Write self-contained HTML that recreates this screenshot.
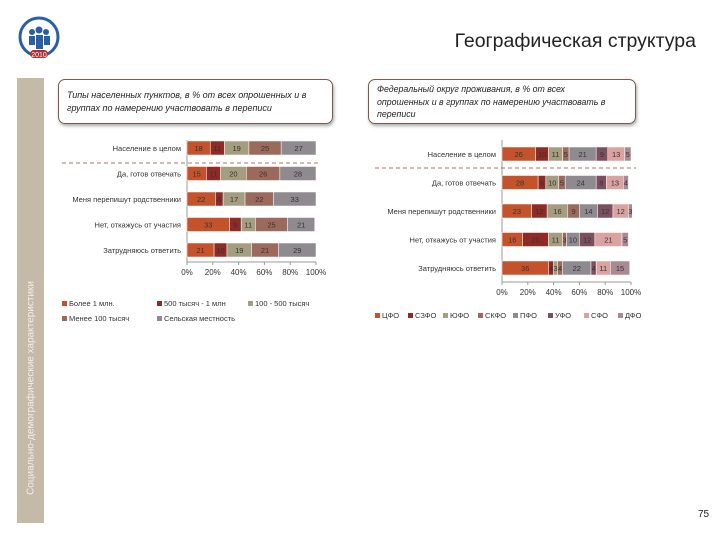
<!DOCTYPE html>
<html><head><meta charset="utf-8">
<style>
body{margin:0;width:720px;height:540px;background:#fff;overflow:hidden;font-family:"Liberation Sans",sans-serif;position:relative}
.box{position:absolute;border:1px solid #7a5a50;border-radius:7px;box-shadow:1px 2px 3px #aaa;font-style:italic;font-size:9.5px;color:#222;padding:6px 8px;line-height:13px;box-sizing:border-box}
</style></head><body>
<svg style="position:absolute;left:8px;top:10px" width="56" height="56" viewBox="0 0 56 56">
<circle cx="31" cy="27" r="19" fill="none" stroke="#2b5fa5" stroke-width="3"/>
<g fill="#2b5fa5"><circle cx="24" cy="22" r="3"/><circle cx="31" cy="20" r="3.5"/><circle cx="38" cy="22" r="3"/><rect x="21" y="26" width="6" height="9"/><rect x="28" y="25" width="7" height="14"/><rect x="36" y="26" width="6" height="9"/></g>
<rect x="22" y="40" width="18" height="8" rx="4" fill="#b03030"/><text x="31" y="47" font-size="7" fill="#fff" text-anchor="middle" font-family="Liberation Sans">2010</text></svg>
<div style="position:absolute;right:24px;top:30px;font-size:19.5px;color:#222">Географическая структура</div>
<div style="position:absolute;left:17px;top:78px;width:27px;height:445px;background:#c5b9a8"></div>
<div style="position:absolute;left:31px;top:388px;transform:translate(-50%,-50%) rotate(-90deg);white-space:nowrap;font-size:10px;color:#f4f0ea">Социально-демографические характеристики</div>
<div class="box" style="left:58px;top:79px;width:275px;height:45px;padding-top:9px;font-size:9px">Типы населенных пунктов, в % от всех опрошенных и в группах по намерению участвовать в переписи</div>
<div class="box" style="left:368px;top:79px;width:268px;height:45px;padding:3px 20px 0 8px;font-size:8.8px;line-height:12.5px">Федеральный округ проживания, в % от всех опрошенных и в группах по намерению участвовать в переписи</div>
<div style="position:absolute;left:698px;top:509px;font-size:10px;color:#222">75</div>
<svg id="ch" width="720" height="540" style="position:absolute;left:0;top:0"></svg>
<script>
const leftCats=["Население в целом","Да, готов отвечать","Меня перепишут родственники","Нет, откажусь от участия","Затрудняюсь ответить"];
const leftSeries=["Более 1 млн.","500 тысяч - 1 млн","100 - 500 тысяч","Менее 100 тысяч","Сельская местность"];
const leftVals=[[18,11,19,25,27],[15,11,20,26,28],[22,6,17,22,33],[33,9,11,25,21],[21,10,19,21,29]];
const rightCats=["Население в целом","Да, готов отвечать","Меня перепишут родственники","Нет, откажусь от участия","Затрудняюсь ответить"];
const rightSeries=["ЦФО","СЗФО","ЮФО","СКФО","ПФО","УФО","СФО","ДФО"];
const rightVals=[[26,10,11,5,21,9,13,5],[28,6,10,5,24,8,13,4],[23,12,16,9,14,12,12,3],[16,20,11,3,10,12,21,5],[36,4,3,4,22,4,11,15]];
const ticks=["0%","20%","40%","60%","80%","100%"];
const leftColors=["#c4532c","#8e2b26","#a59d80","#9b6a5c","#8f8a90"];
const rightColors=["#c4532c","#8e2b26","#a59d80","#9b6a5c","#8f8a90","#7b4f5e","#dba3a0","#a88a92"];
const svg=document.getElementById('ch');const NS="http://www.w3.org/2000/svg";
function mk(t,a,p){const e=document.createElementNS(NS,t);for(const k in a)e.setAttribute(k,a[k]);(p||svg).appendChild(e);return e;}
function chart(o){
 const x=v=>o.x0+v/100*(o.x1-o.x0);
 const y=i=>o.ys[0]+i*(o.ys[1]-o.ys[0]);
 const g=mk('g',{});
 mk('line',{x1:o.x0,y1:o.top,x2:o.x0,y2:o.axisY,stroke:'#999'},g);
 mk('line',{x1:o.x0,y1:o.axisY,x2:o.x1,y2:o.axisY,stroke:'#999'},g);
 ticks.forEach((t,i)=>{const tx=x(i*20);mk('line',{x1:tx,y1:o.axisY,x2:tx,y2:o.axisY+3,stroke:'#999'},g);
  const e=mk('text',{x:tx,y:o.axisY+13,'font-size':8,'text-anchor':'middle',fill:'#333'},g);e.textContent=t;
  });
 mk('line',{x1:o.dashX0,y1:o.dashY,x2:o.x1+5,y2:o.dashY,stroke:'#b07060','stroke-dasharray':'4,3'},g);
 o.cats.forEach((c,i)=>{const cy=y(i);
  const lt=mk('text',{x:o.x0-6,y:cy+3,'font-size':7.5,'text-anchor':'end',fill:'#333'},g);lt.textContent=c;
  
  let acc=0;o.vals[i].forEach((v,j)=>{
   const r=mk('rect',{x:x(acc),y:cy-7,width:x(acc+v)-x(acc),height:14,fill:o.colors[j],stroke:'#fff','stroke-width':0.5},g);
   
   const t=mk('text',{x:(x(acc)+x(acc+v))/2,y:cy+3,'font-size':7.5,'text-anchor':'middle',fill:'#333'},g);t.textContent=v;
   
   acc+=v;});
 });
 o.legend.forEach((l,j)=>{const lx=o.legX[j],ly=o.legY[j];
  const s=mk('rect',{x:lx,y:ly-5,width:5,height:5,fill:o.colors[j]},g);
  const t=mk('text',{x:lx+7,y:ly,'font-size':7.5,fill:'#333'},g);t.textContent=l;});
}
chart({name:'left-chart',x0:187,x1:316,ys:[148,173.5],top:140,axisY:262,dashX0:62,dashY:163,cats:leftCats,vals:leftVals,colors:leftColors,
 legend:leftSeries,legX:[62,157,248,62,157],legY:[306,306,306,321,321]});
chart({name:'right-chart',x0:502,x1:631,ys:[154,182.5],top:140,axisY:282,dashX0:375,dashY:168,cats:rightCats,vals:rightVals,colors:rightColors,
 legend:rightSeries,legX:[375,408,443,478,513,548,584,618],legY:[318,318,318,318,318,318,318,318]});
</script>
</body></html>
